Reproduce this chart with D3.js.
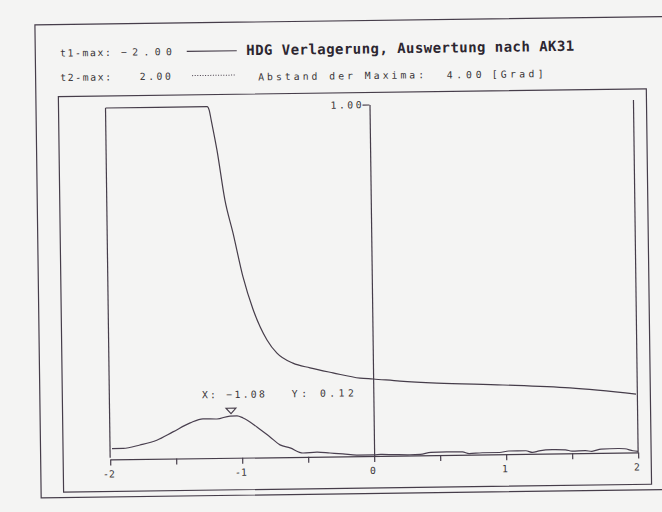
<!DOCTYPE html>
<html><head><meta charset="utf-8">
<script src="https://cdn.jsdelivr.net/npm/d3@7"></script>
<style>
html,body{margin:0;padding:0;background:#f4f4f3;}
svg{display:block;}
</style></head>
<body>
<script>
// ---- data ----
const t1max = -2.00, t2max = 2.00, maxDist = 4.00;
const peakX = -1.08, peakY = 0.12;
const xTicks = [-2, -1.5, -1, -0.5, 0, 0.5, 1, 1.5, 2];
const xTickLabels = ["-2", "", "-1", "", "0", "", "1", "", "2"];
const yTicks = [1];
const yTickLabels = ["1.00"];

// solid curve (HDG Verlagerung)
const curve1X = [-2, -1.23, -1.215, -1.20, -1.16, -1.105, -1.047, -0.976, -0.903, -0.80, -0.726, -0.606, -0.477, -0.304, -0.099, 0, 0.203, 0.483, 0.983, 1.49, 1.99];
const curve1Y = [1.0, 1.0, 0.99, 0.96, 0.876, 0.734, 0.640, 0.515, 0.422, 0.334, 0.296, 0.267, 0.253, 0.238, 0.222, 0.219, 0.212, 0.205, 0.197, 0.186, 0.166];

// second curve (distribution)
const curve2X = [-1.985, -1.90, -1.773, -1.645, -1.522, -1.39, -1.293, -1.187, -1.088, -1.035, -0.989, -0.885, -0.787, -0.712, -0.636, -0.539, -0.433, -0.334, -0.236, -0.130, 0,
  0.05, 0.15, 0.27, 0.35, 0.43, 0.55, 0.67, 0.72, 0.82, 0.95, 1.02, 1.15, 1.2, 1.25, 1.35, 1.45, 1.5, 1.6, 1.65, 1.72, 1.85, 1.9, 1.96, 2.0];
const curve2Y = [0.031, 0.031, 0.040, 0.053, 0.076, 0.101, 0.112, 0.111, 0.119, 0.119, 0.113, 0.087, 0.058, 0.035, 0.026, 0.011, 0.013, 0.010, 0.007, 0.003, 0.003,
  0.004, 0.003, 0.002, 0.003, 0.008, 0.009, 0.008, 0.003, 0.005, 0.005, 0.009, 0.009, 0.004, 0.008, 0.011, 0.010, 0.006, 0.007, 0.005, 0.011, 0.012, 0.011, 0.005, 0.003];

// ---- drawing ----
const W = 662, H = 512;
const ink = "#463d4a", txt = "#3a3638";
const svg = d3.select("body").append("svg").attr("width", W).attr("height", H);
svg.append("rect").attr("width", W).attr("height", H).attr("fill", "#f4f4f3");
const g = svg.append("g").attr("transform", "rotate(-0.76,331,256)");

// frames
g.append("rect").attr("x", 38).attr("y", 21).attr("width", 640).attr("height", 473)
  .attr("fill", "none").attr("stroke", ink).attr("stroke-width", 1.2);
g.append("rect").attr("x", 60.5).attr("y", 93).attr("width", 588).attr("height", 395.5)
  .attr("fill", "none").attr("stroke", ink).attr("stroke-width", 1.2);

const x = d3.scaleLinear().domain([-2, 2]).range([107.5, 635.5]);
const y = d3.scaleLinear().domain([0, 1]).range([456.5, 105]);

const smallFont = "'DejaVu Sans Mono', monospace";
function stext(t, x0, y0, len, anchor) {
  const el = g.append("text").attr("x", x0).attr("y", y0).text(t)
    .attr("font-family", smallFont).attr("font-size", 9.8).attr("fill", txt)
    .attr("text-anchor", anchor || "start");
  if (len) el.attr("textLength", len).attr("lengthAdjust", "spacing");
  return el;
}

// header
stext("t1-max:", 62.6, 53, 51);
stext(d3.format(".2f")(t1max), 174.6, 53, 51, "end");
stext("t2-max:", 62.6, 77.5, 51);
stext(d3.format(".2f")(t2max), 173.2, 77.5, 31, "end");
g.append("line").attr("x1", 189.5).attr("x2", 239.5).attr("y1", 49.5).attr("y2", 49.5)
  .attr("stroke", ink).attr("stroke-width", 1.2);
g.append("line").attr("x1", 194.5).attr("x2", 237.5).attr("y1", 73.8).attr("y2", 73.8)
  .attr("stroke", ink).attr("stroke-width", 1).attr("stroke-dasharray", "1,1.6");
g.append("text").attr("x", 249).attr("y", 54).text("HDG Verlagerung, Auswertung nach AK31")
  .attr("font-family", smallFont).attr("font-weight", "bold").attr("font-size", 14)
  .attr("fill", "#2c2630").attr("textLength", 328).attr("lengthAdjust", "spacing");
stext("Abstand der Maxima:", 260.5, 79.5, 166);
stext(d3.format(".2f")(maxDist), 449, 80, 35);
stext("[Grad]", 494, 80, 52);

// x axis
const xAxis = d3.axisBottom(x).tickValues(xTicks).tickSize(6).tickSizeOuter(0).tickPadding(5)
  .tickFormat((d, i) => xTickLabels[i]);
const gx = g.append("g").attr("transform", `translate(0,${y(0)})`).call(xAxis);
gx.selectAll("path,line").attr("stroke", ink).attr("stroke-width", 1.2);
gx.selectAll("text").attr("font-family", smallFont).attr("font-size", 9.8).attr("fill", txt).attr("dx", -2);

// y axis at x=0
const yAxis = d3.axisLeft(y).tickValues(yTicks).tickSize(7).tickSizeOuter(0).tickPadding(1)
  .tickFormat((d, i) => yTickLabels[i]);
const gy = g.append("g").attr("transform", `translate(${x(0)},0)`).call(yAxis);
gy.selectAll("path,line").attr("stroke", ink).attr("stroke-width", 1.2);
gy.selectAll("text").attr("font-family", smallFont).attr("font-size", 9.8).attr("fill", txt)
  .attr("textLength", 31).attr("lengthAdjust", "spacing");

// t1 / t2 marker lines
g.append("line").attr("x1", x(t1max)).attr("x2", x(t1max)).attr("y1", y(0.005)).attr("y2", y(1))
  .attr("stroke", ink).attr("stroke-width", 1.2);
g.append("line").attr("x1", x(t2max)).attr("x2", x(t2max)).attr("y1", y(0)).attr("y2", y(1.003))
  .attr("stroke", ink).attr("stroke-width", 1.2);

const line = d3.line().x(d => x(d[0])).y(d => y(d[1])).curve(d3.curveMonotoneX);
g.append("path").datum(curve1X.map((v, i) => [v, curve1Y[i]])).attr("d", line)
  .attr("fill", "none").attr("stroke", ink).attr("stroke-width", 1.2);
g.append("path").datum(curve2X.map((v, i) => [v, curve2Y[i]])).attr("d", line)
  .attr("fill", "none").attr("stroke", "#4a4050").attr("stroke-width", 1.2);

// peak marker and label
const px = x(peakX), py = y(peakY) - 2;
g.append("path").attr("d", `M${px - 5},${py - 5.5}L${px + 5},${py - 5.5}L${px},${py}Z`)
  .attr("fill", "none").attr("stroke", ink).attr("stroke-width", 1.1);
stext("X: " + d3.format(".2f")(peakX), 200, 396.6, 63);
stext("Y: " + d3.format(".2f")(peakY), 290, 396.6, 62);
</script>
</body></html>
